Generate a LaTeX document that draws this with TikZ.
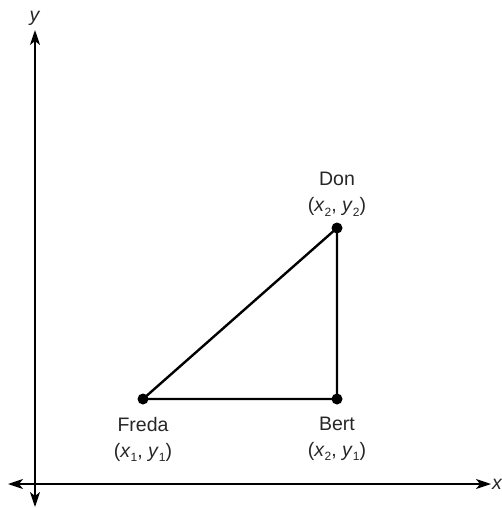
\documentclass[tikz,border=0pt]{standalone}
\usepackage{fontspec}
\setmainfont{Liberation Sans}
\usetikzlibrary{arrows.meta,positioning}
\newcommand{\sub}[1]{\raisebox{-0.45ex}{\fontsize{12}{12}\selectfont#1}}
\newcommand{\pt}[2]{(\textit{x}\sub{#1}, \textit{y}\sub{#2})}

\begin{document}
\begin{tikzpicture}[
        x=1pt,y=-1pt,
        font=\fontsize{19.5}{26}\selectfont,
        text=black!85,
        dot/.style={circle,fill,inner sep=0pt,minimum size=11pt},
        axis/.style={line width=1.8pt,-{Stealth[length=15pt,width=10pt,inset=4pt]}},
        tag/.style={align=center,inner sep=1pt}
      ]
      \useasboundingbox (0,0) rectangle (502,508);
      \coordinate (o) at (35,484);
      \coordinate (xl) at (8,484);
      \coordinate (xr) at (491,484);
      \coordinate (yt) at (35,30);
      \coordinate (yb) at (35,507);
      \draw[axis] (o) -- (xr);
      \draw[axis] (o) -- (xl);
      \draw[axis] (o) -- (yt);
      \draw[axis] (o) -- (yb);
      \node (xlab) [right=1pt of xr,inner sep=0pt] {\textit{x}};
      \node (ylab) [above=4pt of yt,inner sep=0pt] {\textit{y}};
      \node (freda) [dot] at (143,399) {};
      \node (bert) [dot] at (337,399) {};
      \node (don) [dot] at (337,228) {};
      \draw[line width=2.4pt] (freda.center) -- (bert.center) -- (don.center) -- cycle;
      \node (fredalab) [tag,below=11pt of freda] {Freda\\\pt{1}{1}};
      \node (bertlab) [tag,below=11pt of bert] {Bert\\\pt{2}{1}};
      \node (donlab) [tag,above=5pt of don] {Don\\\pt{2}{2}};
    \end{tikzpicture}
\end{document}
